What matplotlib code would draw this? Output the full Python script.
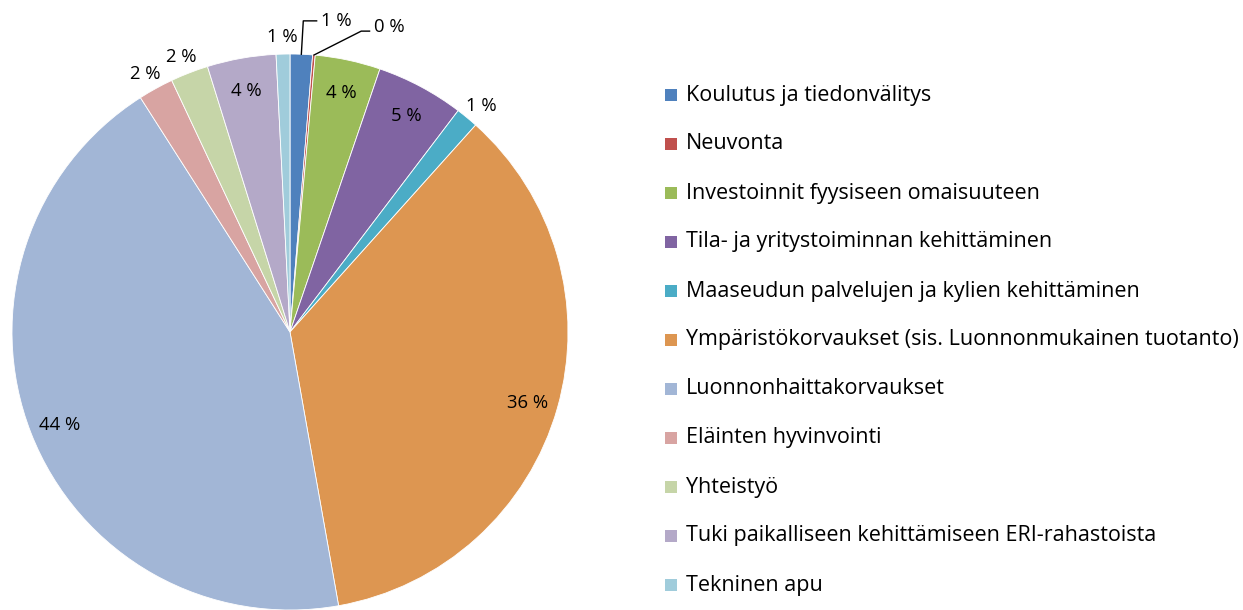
import numpy as np
import matplotlib.pyplot as plt
from matplotlib.patches import Rectangle

# data (shares in %)
categories = [
    "Koulutus ja tiedonvälitys",
    "Neuvonta",
    "Investoinnit fyysiseen omaisuuteen",
    "Tila- ja yritystoiminnan kehittäminen",
    "Maaseudun palvelujen ja kylien kehittäminen",
    "Ympäristökorvaukset (sis. Luonnonmukainen tuotanto)",
    "Luonnonhaittakorvaukset",
    "Eläinten hyvinvointi",
    "Yhteistyö",
    "Tuki paikalliseen kehittämiseen ERI-rahastoista",
    "Tekninen apu",
]
shares = [1.3, 0.15, 3.8, 5.1, 1.3, 35.6, 43.8, 2.05, 2.2, 4.0, 0.8]

colors = ["#4F81BD", "#C0504D", "#9BBB59", "#8064A2", "#4BACC6", "#DD9651",
          "#A2B6D6", "#D8A4A2", "#C6D5A8", "#B4A9C8", "#A0CCDB"]

# label placement: "in" = inside, "out" = just outside, "lead" = with leader line
label_mode = ["lead", "lead", "in", "in", "out", "in", "in", "out", "out", "in", "out"]

plt.rcParams['font.family'] = ['Open Sans', 'DejaVu Sans']

W, H = 1243, 610
fig = plt.figure(figsize=(W / 100, H / 100), dpi=100)

# pie centre and radius in pixels
cx, cy, R = 290, 332, 278
ax = fig.add_axes([(cx - R) / W, (H - cy - R) / H, 2 * R / W, 2 * R / H])

wedges, _ = ax.pie(shares, colors=colors, startangle=90, counterclock=False,
                   radius=1.0, wedgeprops=dict(edgecolor='white', linewidth=0.6))
for w in wedges:
    w.set_clip_on(False)
ax.set_xlim(-1, 1)
ax.set_ylim(-1, 1)
ax.set_aspect('equal')
ax.axis('off')

total = sum(shares)
labels = ["%d %%" % int(round(s / total * 100 + 1e-9)) for s in shares]

# leader line shapes (knee, end, text) as offsets from the wedge edge point
leaders = {
    0: [(0.007, 0.12), (0.055, 0.12), (0.07, 0.118)],
    1: [(0.17, 0.086), (0.20, 0.086), (0.215, 0.10)],
}

lab_size = 13.3
for i, w in enumerate(wedges):
    ang = np.deg2rad((w.theta1 + w.theta2) / 2)
    ux, uy = np.cos(ang), np.sin(ang)
    if label_mode[i] == "in":
        ax.text(0.89 * ux, 0.89 * uy - 0.01, labels[i], ha='center', va='center',
                fontsize=lab_size, color='black')
    elif label_mode[i] == "out":
        ax.text(1.08 * ux, 1.08 * uy - 0.018, labels[i], ha='center',
                va='center', fontsize=lab_size, color='black')
    else:
        x0, y0 = 1.0 * ux, 1.0 * uy
        (kx, ky), (ex, ey), (tx, ty) = leaders[i]
        ax.plot([x0, x0 + kx, x0 + ex], [y0, y0 + ky, y0 + ey], color='black',
                lw=1.0, clip_on=False)
        ax.text(x0 + tx, y0 + ty, labels[i], ha='left', va='center',
                fontsize=lab_size, color='black')

# legend on the right
leg_x, leg_y0, leg_dy, box = 665, 95, 49, 12
for i, name in enumerate(categories):
    yc = leg_y0 + i * leg_dy
    fig.add_artist(Rectangle((leg_x / W, 1 - (yc + box / 2) / H), box / W, box / H,
                             transform=fig.transFigure, facecolor=colors[i],
                             edgecolor='none'))
    fig.text((leg_x + 21) / W, 1 - yc / H, name, ha='left', va='center',
             fontsize=15.5, color='black')

fig.savefig("out.png", dpi=100)
